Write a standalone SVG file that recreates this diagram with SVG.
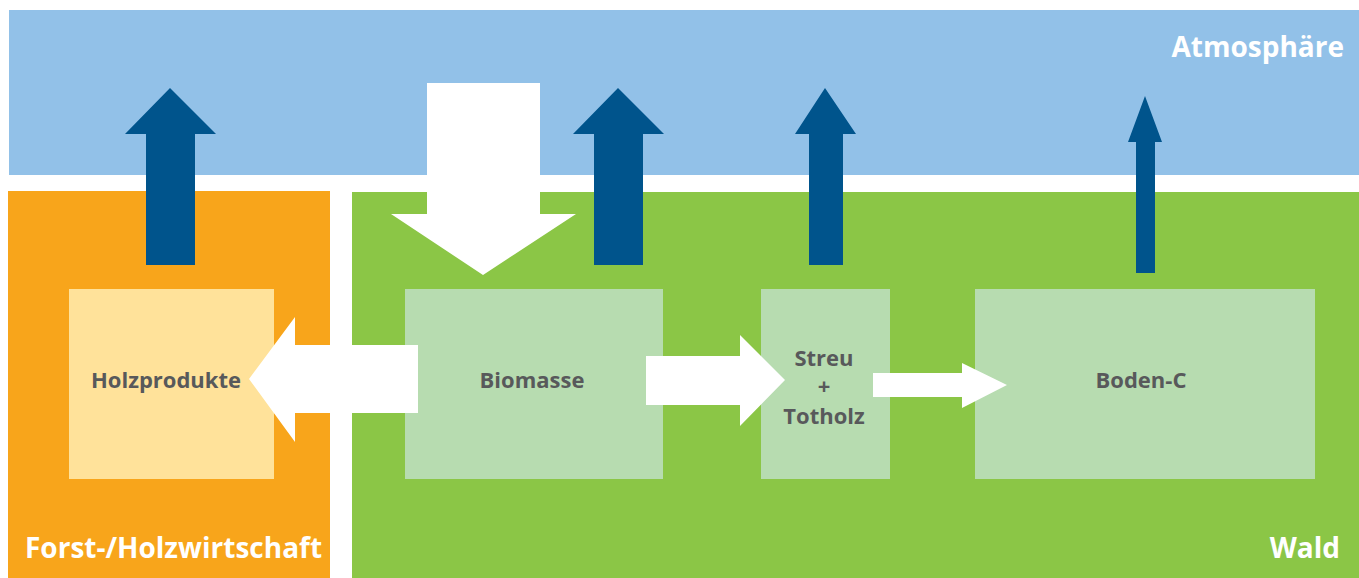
<svg xmlns="http://www.w3.org/2000/svg" width="1359" height="578" viewBox="0 0 1359 578">
<style>
.lbl{font-family:"Open Sans","Noto Sans","Liberation Sans",sans-serif;font-weight:700;fill:#58595b;font-size:22px;text-anchor:middle}
.area{font-family:"Open Sans","Noto Sans","Liberation Sans",sans-serif;font-weight:700;fill:#ffffff;font-size:28px}
.up{fill:#00548c}
.flow{fill:#ffffff}
</style>
<rect width="1359" height="578" fill="#ffffff"/>
<g id="atmosphaere">
<rect x="9" y="10" width="1350" height="165" fill="#92c1e8"/>
<text class="area" x="1344" y="57" text-anchor="end">Atmosphäre</text>
</g>
<g id="forst">
<rect x="8" y="191" width="322" height="387" fill="#f8a51b"/>
<text class="area" x="25" y="558">Forst-/Holzwirtschaft</text>
</g>
<g id="wald">
<rect x="352" y="192" width="1007" height="386" fill="#8bc646"/>
<text class="area" x="1340" y="558" text-anchor="end">Wald</text>
</g>
<g id="holzprodukte">
<rect x="69" y="289" width="205" height="190" fill="#ffe29a"/>
<text class="lbl" x="166" y="388">Holzprodukte</text>
</g>
<g id="biomasse">
<rect x="405" y="289" width="258" height="190" fill="#b7dcb0"/>
<text class="lbl" x="532" y="388">Biomasse</text>
</g>
<g id="streu">
<rect x="761" y="289" width="129" height="190" fill="#b7dcb0"/>
<text class="lbl" x="824" y="366">Streu</text>
<text class="lbl" x="824" y="394">+</text>
<text class="lbl" x="824" y="424">Totholz</text>
</g>
<g id="boden">
<rect x="975" y="289" width="340" height="190" fill="#b7dcb0"/>
<text class="lbl" x="1141" y="388">Boden-C</text>
</g>
<g id="connectors">
<polygon class="up" points="146,265 146,134 125,134 170,88 216,134 195,134 195,265"/>
<polygon class="up" points="594,265 594,134 573,134 618,88 664,134 643,134 643,265"/>
<polygon class="up" points="809,265 809,134 795,134 825,88 856,134 843,134 843,265"/>
<polygon class="up" points="1136,273 1136,142 1128,142 1145,96 1162,142 1155,142 1155,273"/>
<polygon class="flow" points="427,83 540,83 540,214 576,214 483,275 391,214 427,214"/>
<polygon class="flow" points="418,345 418,413 295,413 295,442 249,379 295,317 295,345"/>
<polygon class="flow" points="646,356 740,356 740,335 785,380 740,426 740,405 646,405"/>
<polygon class="flow" points="873,373 962,373 962,363 1007,385 962,408 962,397 873,397"/>
</g>
</svg>
